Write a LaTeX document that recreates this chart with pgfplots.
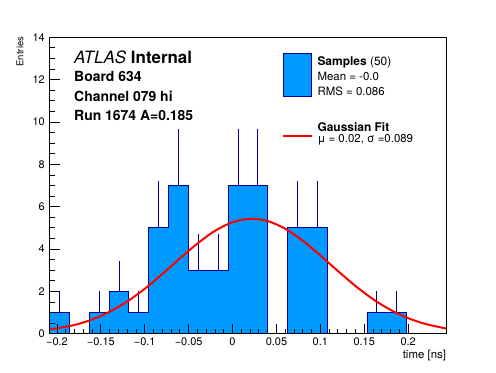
\documentclass[border=0pt]{standalone}
\usepackage{fontspec}
\setmainfont{TeX Gyre Heros}
\usepackage{pgfplots}
\pgfplotsset{compat=1.18}
\definecolor{hfill}{RGB}{0,153,255}
\definecolor{hline}{RGB}{0,0,153}
\begin{document}
\begin{tikzpicture}[x=1bp,y=1bp]
\begin{axis}[
  at={(49.5bp,38.3bp)}, anchor=south west,
  width=396.8bp, height=296.4bp, scale only axis,
  xmin=-0.2085, xmax=0.2435, ymin=0, ymax=14,
  axis on top,
  axis line style={line width=0.8bp},
  tick pos=left, tick align=inside,
  major tick length=10bp, minor tick length=5bp,
  every tick/.style={black, line width=0.8bp},
  xtick={-0.2,-0.15,-0.1,-0.05,0,0.05,0.1,0.15,0.2},
  xticklabels={−0.2,−0.15,−0.1,−0.05,0,0.05,0.1,0.15,0.2},
  ytick={0,2,4,6,8,10,12,14},
  yticklabels={0,2,4,6,8,10,12,14},
  minor x tick num=4, minor y tick num=3,
  tick label style={font=\fontsize{11}{13}\selectfont},
  xticklabel style={anchor=north, inner sep=0pt, yshift=-4.3bp},
  yticklabel style={anchor=east, inner sep=0pt, xshift=-4.5bp},
]
% error bars (upper part visible)
\addplot[draw=none, mark=none, forget plot,
  error bars/.cd, y dir=plus, y explicit, error mark=none,
  error bar style={draw=hline, line width=0.8bp, solid}]
 coordinates {
 (-0.1972,1) +- (0,1)
 (-0.1520,1) +- (0,1)
 (-0.1294,2) +- (0,1.414)
 (-0.1068,1) +- (0,1)
 (-0.0842,5) +- (0,2.236)
 (-0.0616,7) +- (0,2.646)
 (-0.0390,3) +- (0,1.732)
 (-0.0164,3) +- (0,1.732)
 (0.0062,7) +- (0,2.646)
 (0.0288,7) +- (0,2.646)
 (0.0740,5) +- (0,2.236)
 (0.0966,5) +- (0,2.236)
 (0.1644,1) +- (0,1)
 (0.1870,1) +- (0,1)
 };
% histogram
\addplot[const plot, fill=hfill, draw=hline, line width=0.8bp] coordinates {
 (-0.2085,1) (-0.1859,0) (-0.1633,1) (-0.1407,2) (-0.1181,1)
 (-0.0955,5) (-0.0729,7) (-0.0503,3) (-0.0277,3) (-0.0051,7)
 (0.0175,7) (0.0401,0) (0.0627,5) (0.0853,5) (0.1079,0)
 (0.1305,0) (0.1531,1) (0.1757,1) (0.1983,0) (0.2209,0) (0.2435,0)
} \closedcycle;
% gaussian fit
\addplot[red, line width=2bp, smooth] coordinates {
 (-0.2085,0.190) (-0.18,0.413) (-0.16,0.671) (-0.14,1.036) (-0.12,1.521)
 (-0.10,2.122) (-0.08,2.816) (-0.06,3.552) (-0.04,4.260) (-0.02,4.858)
 (0,5.267) (0.02,5.429) (0.04,5.320) (0.06,4.957) (0.08,4.391)
 (0.10,3.698) (0.12,2.962) (0.14,2.255) (0.16,1.632) (0.18,1.123)
 (0.20,0.735) (0.22,0.457) (0.2435,0.245)
};
\end{axis}
% axis titles
\node[rotate=90, anchor=base east, inner sep=0pt, font=\fontsize{9.5}{11}\selectfont] at (23.3,335.3) {Entries};
\node[anchor=base east, inner sep=0pt, font=\fontsize{11.5}{13}\selectfont] at (446.3,13.7) {time [ns]};
% labels
\node[anchor=base west, inner sep=0pt, font=\fontsize{17}{19}\selectfont] at (74,308.7) {\textit{ATLAS} \textbf{Internal}};
\node[anchor=base west, inner sep=0pt, font=\fontsize{14}{16}\selectfont\bfseries] at (74,291) {Board 634};
\node[anchor=base west, inner sep=0pt, font=\fontsize{14}{16}\selectfont\bfseries] at (74,271) {Channel 079 hi};
\node[anchor=base west, inner sep=0pt, font=\fontsize{14}{16}\selectfont\bfseries] at (74,252) {Run 1674 A=0.185};
% legend
\fill[hfill] (283.3,275.3) rectangle (311.7,318.7);
\draw[hline, line width=0.8bp] (283.3,275.3) rectangle (311.7,318.7);
\draw[red, line width=2bp] (282.7,236) -- (311.7,236);
\node[anchor=base west, inner sep=0pt, font=\fontsize{12}{14}\selectfont] at (317.3,307) {\textbf{Samples} (50)};
\node[anchor=base west, inner sep=0pt, font=\fontsize{11.5}{14}\selectfont] at (317.3,291.3) {Mean = -0.0};
\node[anchor=base west, inner sep=0pt, font=\fontsize{11.5}{14}\selectfont] at (317.3,276.7) {RMS = 0.086};
\node[anchor=base west, inner sep=0pt, font=\fontsize{12}{14}\selectfont\bfseries] at (317.3,240.3) {Gaussian Fit};
\node[anchor=base west, inner sep=0pt, font=\fontsize{11.5}{14}\selectfont] at (317.3,229.3) {μ = 0.02, σ =0.089};
\pgfresetboundingbox
\path[use as bounding box] (0,0) rectangle (496,372);
\end{tikzpicture}
\end{document}
